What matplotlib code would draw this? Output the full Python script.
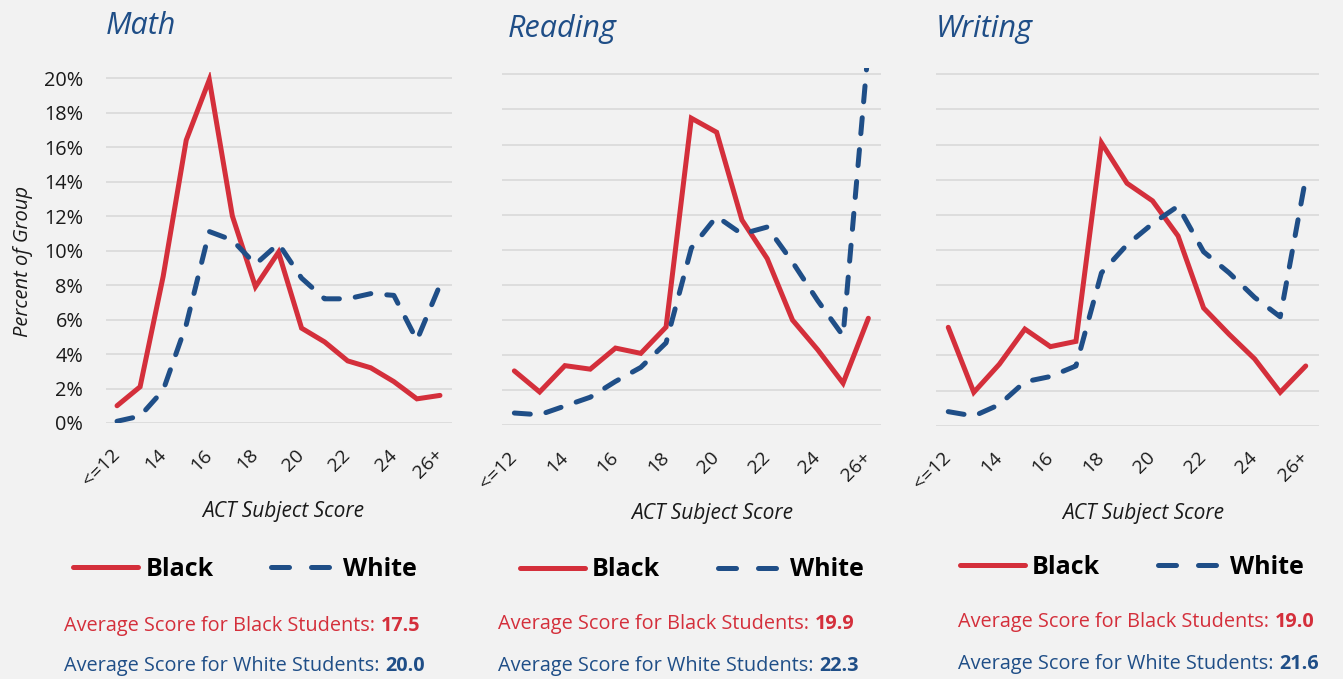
import matplotlib
matplotlib.use("Agg")
import matplotlib.pyplot as plt
from matplotlib.ticker import PercentFormatter

# ---------------------------------------------------------------------------
# Donnees (en %)
# ---------------------------------------------------------------------------
categories = ["<=12", "13", "14", "15", "16", "17", "18", "19", "20",
              "21", "22", "23", "24", "25", "26+"]

math_black = [1.0, 2.1, 8.5, 16.4, 19.9, 12.0, 7.9, 9.9, 5.5, 4.7, 3.6, 3.2, 2.4, 1.4, 1.6]
math_white = [0.1, 0.4, 1.9, 5.7, 11.1, 10.6, 9.2, 10.4, 8.4, 7.2, 7.2, 7.5, 7.4, 4.8, 8.0]

reading_black = [3.1, 1.9, 3.4, 3.2, 4.4, 4.1, 5.6, 17.5, 16.7, 11.7, 9.5, 6.0, 4.3, 2.4, 6.1]
reading_white = [0.7, 0.6, 1.1, 1.6, 2.5, 3.3, 4.7, 10.1, 11.9, 10.9, 11.3, 9.3, 7.1, 5.1, 21.5]

writing_black = [5.6, 1.9, 3.5, 5.5, 4.5, 4.8, 16.1, 13.8, 12.8, 10.8, 6.7, 5.2, 3.8, 1.9, 3.4]
writing_white = [0.8, 0.55, 1.2, 2.5, 2.8, 3.4, 8.7, 10.3, 11.5, 12.5, 9.9, 8.7, 7.3, 6.2, 14.1]

subjects = ["Math", "Reading", "Writing"]
avg_black = ["17.5", "19.9", "19.0"]
avg_white = ["20.0", "22.3", "21.6"]

# ---------------------------------------------------------------------------
# Style
# ---------------------------------------------------------------------------
RED = "#D42F3B"
BLUE = "#1F4E87"
BG = "#F2F2F2"
GRID = "#D9D9D9"
INK = "#1A1A1A"
FONT = ["Open Sans", "DejaVu Sans"]

plt.rcParams["font.family"] = FONT

W, H = 1343, 679
fig = plt.figure(figsize=(W / 100, H / 100), dpi=100, facecolor=BG)


def fx(px):
    return px / W


def fy(py):
    return 1 - py / H


# positions des zones de trace (pixels : gauche, droite, haut, bas)
panels = [
    (105.5, 451.5, 72.0, 423.0),
    (501.7, 881.0, 68.2, 425.3),
    (935.5, 1318.5, 68.2, 425.7),
]
title_pos = [(106, 26), (508, 29), (936, 29)]
xlabel_pos = [(283, 511), (712, 514), (1143, 514)]
legend_pos = [(245, 569), (692, 570), (1132, 567)]
avg_pos = [(64, 626, 666), (498, 624, 666), (958, 622, 664)]

series = [(math_black, math_white), (reading_black, reading_white),
          (writing_black, writing_white)]

x = list(range(len(categories)))

for i, (name, (black, white)) in enumerate(zip(subjects, series)):
    l, r, t, b = panels[i]
    ax = fig.add_axes([fx(l), fy(b), fx(r - l), (b - t) / H])
    ax.set_facecolor(BG)
    ax.plot(x, black, color=RED, lw=3.6, solid_capstyle="round",
            solid_joinstyle="miter", label="Black", zorder=3)
    ax.plot(x, white, color=BLUE, lw=3.6, dashes=(3.2, 3.2),
            dash_capstyle="round", label="White", zorder=3)

    ax.set_xlim(-0.5, len(categories) - 0.5)
    ax.set_ylim(0, 20.35)
    ax.set_yticks(range(0, 21, 2))
    ax.yaxis.set_major_formatter(PercentFormatter(decimals=0))
    ax.grid(axis="y", color=GRID, lw=1.2)
    ax.set_axisbelow(True)
    for s in ax.spines.values():
        s.set_visible(False)

    ax.set_xticks(x[::2])
    ax.set_xticklabels(categories[::2], rotation=45, ha="right", va="center",
                       rotation_mode="anchor", fontsize=14, color=INK)
    ax.tick_params(axis="x", length=0, pad=21)
    if i == 0:
        ax.tick_params(axis="y", length=0, pad=16, labelsize=14.3,
                       labelcolor=INK)
    else:
        ax.tick_params(axis="y", length=0, labelleft=False)

    # titre
    fig.text(fx(title_pos[i][0]), fy(title_pos[i][1]), name, fontsize=22,
             style="italic", color=BLUE, ha="left", va="center")
    # axe x
    fig.text(fx(xlabel_pos[i][0]), fy(xlabel_pos[i][1]), "ACT Subject Score",
             fontsize=15, style="italic", color=INK, ha="center", va="center")

    # legende
    leg = ax.legend(loc="center", bbox_to_anchor=(fx(legend_pos[i][0]),
                                                  fy(legend_pos[i][1])),
                    bbox_transform=fig.transFigure, ncol=2, frameon=False,
                    prop={"weight": "bold", "size": 18}, handlelength=2.6,
                    handletextpad=0.3, columnspacing=2.3)
    for txt in leg.get_texts():
        txt.set_color("black")
    leg.get_lines()[1].set_dashes((3.6, 4.4))

    # moyennes
    ax0, yb, yw = avg_pos[i]
    tb = fig.text(fx(ax0), fy(yb), "Average Score for Black Students:",
                  fontsize=14.3, color=RED, ha="left", va="center")
    ax.annotate(avg_black[i], xy=(1, 0), xycoords=tb, xytext=(4.5, 0),
                textcoords="offset points", fontsize=14.3, fontweight="bold",
                color=RED, ha="left", va="bottom", annotation_clip=False)
    tw = fig.text(fx(ax0), fy(yw), "Average Score for White Students:",
                  fontsize=14.3, color=BLUE, ha="left", va="center")
    ax.annotate(avg_white[i], xy=(1, 0), xycoords=tw, xytext=(4.5, 0),
                textcoords="offset points", fontsize=14.3, fontweight="bold",
                color=BLUE, ha="left", va="bottom", annotation_clip=False)

fig.text(fx(23), fy(261), "Percent of Group", rotation=90, fontsize=14.5,
         style="italic", color=INK, ha="center", va="center")

fig.savefig("out.png", dpi=100, facecolor=BG)
